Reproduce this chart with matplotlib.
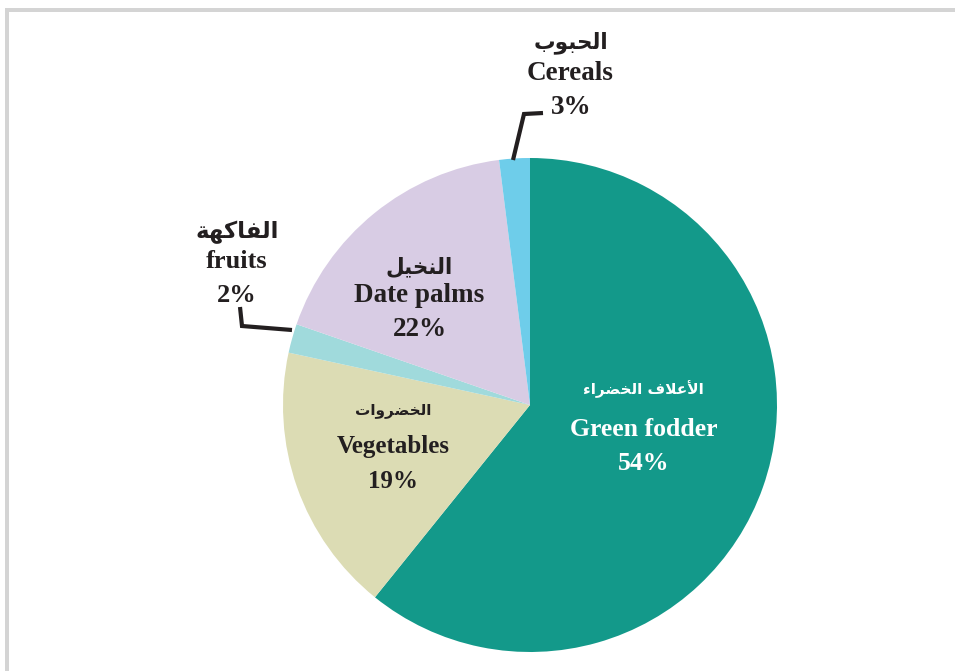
import matplotlib
matplotlib.use("Agg")
import matplotlib.pyplot as plt
from matplotlib.patches import Rectangle

# ---- data ----
categories = ["Green fodder", "Vegetables", "fruits", "Date palms", "Cereals"]
# Arabic labels, pre-shaped (presentation forms, visual order) because matplotlib has no bidi shaping
arabic_labels = [
    "\uFE80\uFE8D\uFEAE\uFEC0\uFEA8\uFEDF\uFE8D \uFED1\uFEFC\uFECB\uFEF7\uFE8D",  # الأعلاف الخضراء
    "\uFE95\uFE8D\uFEED\uFEAE\uFEC0\uFEA8\uFEDF\uFE8D",                          # الخضروات
    "\uFE94\uFEEC\uFEDB\uFE8E\uFED4\uFEDF\uFE8D",                                # الفاكهة
    "\uFEDE\uFEF4\uFEA8\uFEE8\uFEDF\uFE8D",                                      # النخيل
    "\uFE8F\uFEEE\uFE92\uFEA4\uFEDF\uFE8D",                                      # الحبوب
]
# wedge sizes as drawn in the picture
wedge_values = [60.8, 17.6, 1.9, 17.7, 2.0]
# percentages as printed on the chart
pct_labels = ["54%", "19%", "2%", "22%", "3%"]
colors = ["#13998a", "#dcdcb4", "#a0dadc", "#d8cce4", "#6ecdea"]

W, H = 955, 671
fig = plt.figure(figsize=(W / 100, H / 100), dpi=100)
ax = fig.add_axes([0, 0, 1, 1])


def Y(y):
    return H - y


# frame (light grey top and left borders)
ax.add_patch(Rectangle((5, Y(12)), W - 5, 4, color="#d4d4d4", lw=0, zorder=0))
ax.add_patch(Rectangle((5, 0), 4, Y(8), color="#d4d4d4", lw=0, zorder=0))

ax.pie(wedge_values, colors=colors, startangle=90, counterclock=False,
       center=(530, Y(405)), radius=247, frame=True,
       wedgeprops=dict(linewidth=0))
ax.set_xlim(0, W)
ax.set_ylim(0, H)
ax.set_aspect("equal")
ax.axis("off")

serif = dict(family="Liberation Serif", fontweight="bold", ha="center", va="center")
arab = dict(family="DejaVu Sans", fontweight="bold", ha="center", va="center")
dark = "#231f20"

# label positions (pixel coords): arabic, english, pct, colour, arabic size, latin size
layout = [
    ((643, 389), (644, 430), (644, 463), "white", 11, 18.5),
    ((393, 411), (393, 447), (393, 481), dark, 11, 18),
    ((237, 232), (237, 261), (237, 296), dark, 16.5, 19),
    ((419, 267), (419, 296), (420, 329), dark, 15.5, 19.5),
    ((571, 43), (570, 73), (571, 107), dark, 15.5, 19.5),
]
for i, (pa, pe, pp, col, asz, lsz) in enumerate(layout):
    ax.text(pa[0], Y(pa[1]), arabic_labels[i], color=col, fontsize=asz, **arab)
    ax.text(pe[0], Y(pe[1]), categories[i], color=col, fontsize=lsz, **serif)
    ax.text(pp[0], Y(pp[1]), pct_labels[i], color=col, fontsize=lsz, **serif)

# leader lines
ax.plot([513, 524, 543], [Y(160), Y(114), Y(113)], color=dark, lw=3,
        solid_joinstyle="miter", solid_capstyle="butt")
ax.plot([240, 242, 292], [Y(307), Y(326), Y(330)], color=dark, lw=3,
        solid_joinstyle="miter", solid_capstyle="butt")

fig.savefig("out.png", dpi=100)
